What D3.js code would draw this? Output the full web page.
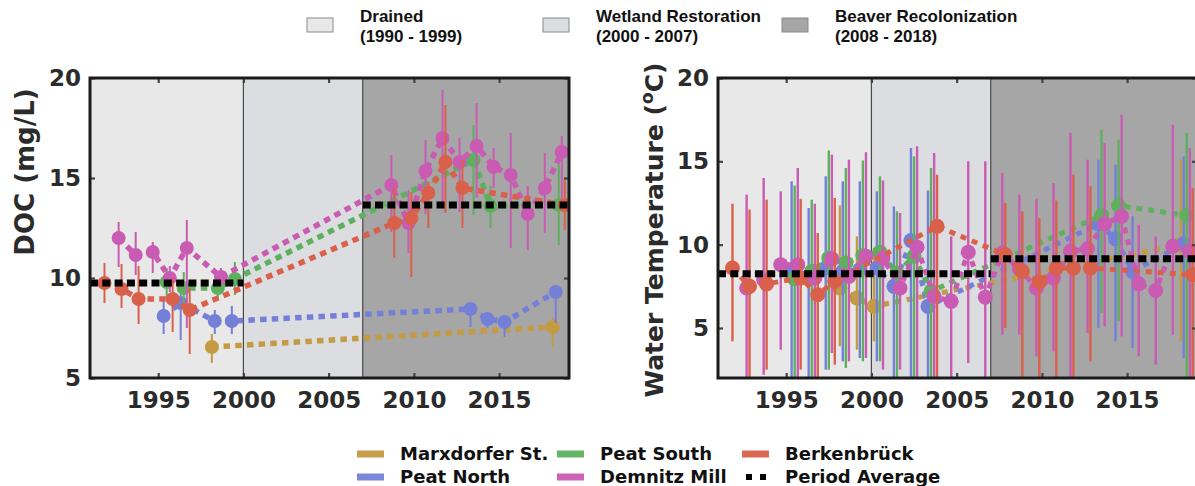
<!DOCTYPE html>
<html><head><meta charset="utf-8">
<script src="https://cdn.jsdelivr.net/npm/d3@7"></script>
<style>body{margin:0;background:#fff;} svg{display:block;}</style>
</head><body>
<script>
// ---------------- DATA ----------------
const seriesNames = ["Marxdorfer St.", "Peat North", "Peat South", "Demnitz Mill", "Berkenbrück"];
const periodNames = ["Drained", "Wetland Restoration", "Beaver Recolonization"];
const periodRanges = ["(1990 - 1999)", "(2000 - 2007)", "(2008 - 2018)"];
const periodBounds = [1990, 2000, 2007, 2020];
const xTicks = [1995, 2000, 2005, 2010, 2015];
const docTicks = [5, 10, 15, 20];
const tempTicks = [5, 10, 15, 20];

// [year, mean, low, high]
const docMarxdorfer = [[1998, 6.55, 5.75, 7.2], [2018, 7.55, 6.55, 8.0]];
const docPeatNorth = [[1995, 8.1, 7.2, 8.9], [1996, 8.75, 6.9, 9.2], [1998, 7.85, 7.2, 8.4], [1999, 7.85, 7.2, 8.6],
  [2013, 8.45, 7.55, 8.5], [2014, 7.95, 7.5, 8.2], [2015, 7.8, 7.05, 8.0], [2018, 9.3, 7.75, 9.65]];
const docPeatSouth = [[1995, 9.8, 9.0, 10.5], [1996, 9.5, 8.7, 10.3], [1998, 9.5, 9.0, 10.3], [1999, 9.95, 9.15, 10.8],
  [2013, 15.9, 13.15, 17.65], [2014, 13.6, 12.5, 14.6], [2018, 13.65, 11.65, 15.8]];
const docDemnitz = [[1992, 12.0, 10.55, 12.8], [1993, 11.15, 10.15, 12.3], [1994, 11.3, 10.25, 11.8], [1995, 10.0, 9.3, 10.6],
  [1996, 11.5, 7.5, 12.9], [1998, 10.05, 9.6, 10.5], [2008, 14.65, 12.3, 16.15], [2009, 12.75, 11.25, 14.4],
  [2010, 15.35, 13.2, 16.9], [2011, 17.0, 13.8, 19.4], [2012, 15.8, 13.3, 17.0], [2013, 16.6, 14.0, 18.75],
  [2014, 15.55, 14.5, 16.5], [2015, 15.15, 11.5, 17.25], [2016, 13.2, 11.4, 14.6], [2017, 14.5, 12.25, 16.25],
  [2018, 16.3, 14.0, 17.1]];
const docBerkenbruck = [[1991, 9.75, 8.75, 10.75], [1992, 9.45, 8.5, 10.7], [1993, 8.95, 7.7, 10.6], [1995, 8.95, 7.3, 10.0],
  [1996, 8.4, 6.2, 9.5], [2008, 12.75, 11.0, 14.55], [2009, 13.0, 10.05, 14.3], [2010, 14.25, 12.5, 14.8],
  [2011, 15.8, 13.25, 18.65], [2012, 14.5, 12.5, 15.9], [2018, 13.65, 12.4, 15.0]];
// [start, end, value]
const docAverages = [[1990, 2000, 9.75], [2007, 2020, 13.65]];

const tempMarxdorfer = [[1998, 7.4, 3.9, 12.35], [1999, 6.8, 3.7, 10.5], [2000, 6.3, 4.2, 9.8], [2018, 10.0, 4.2, 15.1]];
const tempPeatNorth = [[1995, 8.3, 2.0, 13.8], [1996, 8.0, 2.0, 12.2], [1997, 8.6, 2.5, 14.1], [1998, 8.4, 3.0, 13.8],
  [1999, 8.5, 3.2, 13.8], [2000, 8.6, 3.0, 13.2], [2001, 7.5, 2.0, 12.3], [2002, 10.25, 2.0, 15.8],
  [2003, 6.3, 2.0, 13.25], [2013, 11.25, 5.0, 15.1], [2014, 10.35, 4.2, 14.8], [2015, 8.4, 3.8, 11.7],
  [2018, 10.05, 3.2, 15.3]];
const tempPeatSouth = [[1995, 7.95, 2.0, 13.55], [1996, 8.4, 2.0, 12.7], [1997, 9.2, 2.5, 15.65], [1998, 8.9, 2.6, 14.6],
  [1999, 9.35, 3.0, 15.05], [2000, 9.55, 3.0, 14.1], [2001, 8.3, 2.0, 12.0], [2002, 9.3, 2.0, 15.3],
  [2003, 7.2, 2.0, 14.6], [2013, 11.75, 5.9, 16.9], [2014, 12.35, 5.4, 16.3], [2018, 11.75, 2.0, 16.7]];
const tempDemnitz = [[1992, 7.4, 2.0, 13.0], [1993, 7.9, 2.2, 14.0], [1994, 8.8, 3.7, 13.2], [1995, 8.8, 2.0, 14.6],
  [1996, 8.0, 2.0, 12.45], [1997, 9.15, 3.5, 15.4], [1998, 8.1, 3.0, 15.1], [1999, 9.3, 3.2, 15.55],
  [2000, 9.2, 2.5, 13.85], [2001, 7.4, 2.5, 11.9], [2002, 9.85, 2.0, 15.9], [2003, 6.9, 2.0, 15.5],
  [2004, 6.6, 2.0, 10.5], [2005, 9.55, 2.9, 15.0], [2006, 6.85, 2.0, 15.0], [2007, 9.5, 4.6, 14.3],
  [2008, 8.55, 4.6, 13.0], [2009, 7.4, 3.3, 12.75], [2010, 8.0, 3.6, 13.7], [2011, 9.6, 2.0, 16.7],
  [2012, 9.75, 4.7, 15.1], [2013, 11.25, 5.1, 16.1], [2014, 11.7, 4.5, 17.8], [2015, 7.65, 3.3, 11.2],
  [2016, 7.25, 2.8, 10.5], [2017, 9.9, 4.6, 17.2], [2018, 9.6, 2.0, 15.8]];
const tempBerkenbruck = [[1991, 8.6, 4.2, 12.45], [1992, 7.5, 2.0, 12.1], [1993, 7.65, 2.5, 12.7], [1995, 8.0, 2.5, 12.75],
  [1996, 7.0, 2.0, 10.7], [1997, 7.8, 2.8, 12.8], [2003, 11.1, 2.0, 14.2], [2007, 9.4, 5.0, 12.5],
  [2008, 8.4, 2.0, 12.0], [2009, 7.75, 2.0, 11.6], [2010, 8.6, 2.0, 12.65], [2011, 8.6, 2.0, 14.2],
  [2012, 8.6, 3.0, 13.5], [2018, 8.2, 2.0, 13.4]];
const tempAverages = [[1990, 2007, 8.25], [2007, 2020, 9.15]];

// ---------------- STYLE ----------------
const seriesColors = ["#c49a42", "#7480d8", "#5eb05e", "#c95bb2", "#d9604a"];
const seriesDodge = [-0.35, -0.18, 0, 0.18, 0.35];
const periodFills = ["#e8e8e8", "#dcdde0", "#a6a6a6"];
const tickFont = "DejaVu Sans, Verdana, sans-serif";

const W = 1195, H = 486;
const svg = d3.select("body").append("svg").attr("width", W).attr("height", H);

function drawPanel(cfg) {
  const x = d3.scaleLinear().domain([1991, 2019.1]).range([cfg.x0, cfg.x1]);
  const y = d3.scaleLinear().domain(cfg.yDomain).range([cfg.y1, cfg.y0]);
  const g = svg.append("g");
  const clipId = "clip" + cfg.id;
  g.append("clipPath").attr("id", clipId).append("rect")
    .attr("x", cfg.x0).attr("y", cfg.y0).attr("width", cfg.x1 - cfg.x0).attr("height", cfg.y1 - cfg.y0);
  const plot = g.append("g").attr("clip-path", `url(#${clipId})`);
  const [d0, d1] = x.domain();
  for (let i = 0; i < periodFills.length; i++) {
    const a = Math.max(periodBounds[i], d0), b = Math.min(periodBounds[i + 1], d1);
    plot.append("rect").attr("x", x(a)).attr("y", cfg.y0).attr("width", x(b) - x(a)).attr("height", cfg.y1 - cfg.y0)
      .attr("fill", periodFills[i]);
  }
  [2000, 2007].forEach(v => plot.append("line").attr("x1", x(v)).attr("x2", x(v)).attr("y1", cfg.y0).attr("y2", cfg.y1)
    .attr("stroke", "#4a4a4a").attr("stroke-width", 1.2));
  cfg.series.forEach((data, i) => {
    const col = seriesColors[i];
    const px = d => x(d[0] + 0.5 + seriesDodge[i]);
    const sg = plot.append("g");
    sg.selectAll("line.err").data(data).join("line").attr("class", "err")
      .attr("x1", px).attr("x2", px).attr("y1", d => y(d[2])).attr("y2", d => y(d[3]))
      .attr("stroke", col).attr("stroke-width", cfg.errW);
    sg.append("path").datum(data)
      .attr("d", d3.line().x(px).y(d => y(d[1])))
      .attr("fill", "none").attr("stroke", col).attr("stroke-width", cfg.lineW)
      .attr("stroke-dasharray", cfg.dash);
    sg.selectAll("circle").data(data).join("circle")
      .attr("cx", px).attr("cy", d => y(d[1])).attr("r", cfg.r).attr("fill", col);
  });
  cfg.averages.forEach(a => {
    plot.append("line").attr("x1", x(Math.max(a[0], d0))).attr("x2", x(Math.min(a[1], d1)))
      .attr("y1", y(a[2])).attr("y2", y(a[2]))
      .attr("stroke", "#000").attr("stroke-width", 7).attr("stroke-dasharray", "8 4.3");
  });
  const axStyle = sel => {
    sel.select(".domain").remove();
    sel.selectAll(".tick line").attr("stroke", "#444").attr("stroke-width", 2.2);
    sel.selectAll("text").attr("font-family", tickFont).attr("font-weight", "bold")
      .attr("font-size", 23).attr("fill", "#2b2b2b");
  };
  g.append("g").attr("transform", `translate(0,${cfg.y1})`)
    .call(d3.axisBottom(x).tickValues(xTicks).tickFormat(d3.format("d")).tickSize(-5).tickPadding(14)).call(axStyle);
  g.append("g").attr("transform", `translate(0,${cfg.y0})`)
    .call(d3.axisTop(x).tickValues(xTicks).tickFormat("").tickSize(-5)).call(axStyle);
  g.append("g").attr("transform", `translate(${cfg.x0},0)`)
    .call(d3.axisLeft(y).tickValues(cfg.yTicks).tickFormat(d3.format("d")).tickSize(-5).tickPadding(9)).call(axStyle);
  g.append("g").attr("transform", `translate(${cfg.x1},0)`)
    .call(d3.axisRight(y).tickValues(cfg.yTicks).tickFormat("").tickSize(-5)).call(axStyle);
  g.append("rect").attr("x", cfg.x0).attr("y", cfg.y0).attr("width", cfg.x1 - cfg.x0).attr("height", cfg.y1 - cfg.y0)
    .attr("fill", "none").attr("stroke", "#1a1a1a").attr("stroke-width", 3);
  const t = svg.append("text").attr("transform", `translate(${cfg.titleX},${cfg.titleY}) rotate(-90)`)
    .attr("text-anchor", "middle").attr("font-family", tickFont).attr("font-weight", "bold")
    .attr("font-size", 25).attr("fill", "#2b2b2b");
  cfg.title(t);
}

drawPanel({
  id: "doc", x0: 90, x1: 569, y0: 78, y1: 378, yDomain: [5, 20], yTicks: docTicks,
  series: [docMarxdorfer, docPeatNorth, docPeatSouth, docDemnitz, docBerkenbruck],
  averages: docAverages, r: 7, lineW: 5.5, errW: 2, dash: "6.5 5.2",
  titleX: 34, titleY: 172, title: t => t.text("DOC (mg/L)").attr("font-size", 26)
});
drawPanel({
  id: "temp", x0: 718, x1: 1197, y0: 78, y1: 378, yDomain: [2, 20], yTicks: tempTicks,
  series: [tempMarxdorfer, tempPeatNorth, tempPeatSouth, tempDemnitz, tempBerkenbruck],
  averages: tempAverages, r: 7.5, lineW: 5, errW: 2.4, dash: "6 6",
  titleX: 663, titleY: 230, title: t => {
    t.append("tspan").text("Water Temperature (");
    t.append("tspan").text("o").attr("font-size", 17).attr("baseline-shift", "super");
    t.append("tspan").text("C)");
  }
});

// ---------------- TOP LEGEND ----------------
const topLeg = svg.append("g");
const topX = [307, 543, 782];
periodNames.forEach((n, i) => {
  topLeg.append("rect").attr("x", topX[i]).attr("y", 18).attr("width", 26).attr("height", 14)
    .attr("fill", periodFills[i]).attr("stroke", "#8a8a8a").attr("stroke-width", 1);
  const tx = topLeg.append("text").attr("x", topX[i] + 53).attr("y", 22)
    .attr("font-family", "Liberation Sans, Arial, sans-serif")
    .attr("font-weight", "bold").attr("font-size", 17).attr("fill", "#111");
  tx.append("tspan").attr("x", topX[i] + 53).attr("dy", 0).text(n);
  tx.append("tspan").attr("x", topX[i] + 53).attr("dy", 20).text(periodRanges[i]);
});

// ---------------- BOTTOM LEGEND ----------------
const botLeg = svg.append("g");
const legNames = [...seriesNames.map((n, i) => ({ n, c: seriesColors[i] })), { n: "Period Average", c: "#000", avg: true }];
const colX = [357, 557, 742];
const rowY = [454, 477];
legNames.forEach((item, idx) => {
  const col = Math.floor(idx / 2), row = idx % 2;
  const sx = colX[col], sy = rowY[row];
  if (item.avg) {
    botLeg.append("line").attr("x1", sx + 4).attr("x2", sx + 24).attr("y1", sy).attr("y2", sy)
      .attr("stroke", "#000").attr("stroke-width", 6).attr("stroke-dasharray", "6 8");
  } else {
    botLeg.append("rect").attr("x", sx).attr("y", sy - 3.5).attr("width", 27).attr("height", 7)
      .attr("fill", item.c).attr("opacity", 0.95);
  }
  botLeg.append("text").attr("x", sx + 43).attr("y", sy).attr("dy", "0.36em")
    .attr("font-family", tickFont).attr("font-weight", "bold").attr("font-size", 18).attr("fill", "#111")
    .text(item.n);
});
</script>
</body></html>
